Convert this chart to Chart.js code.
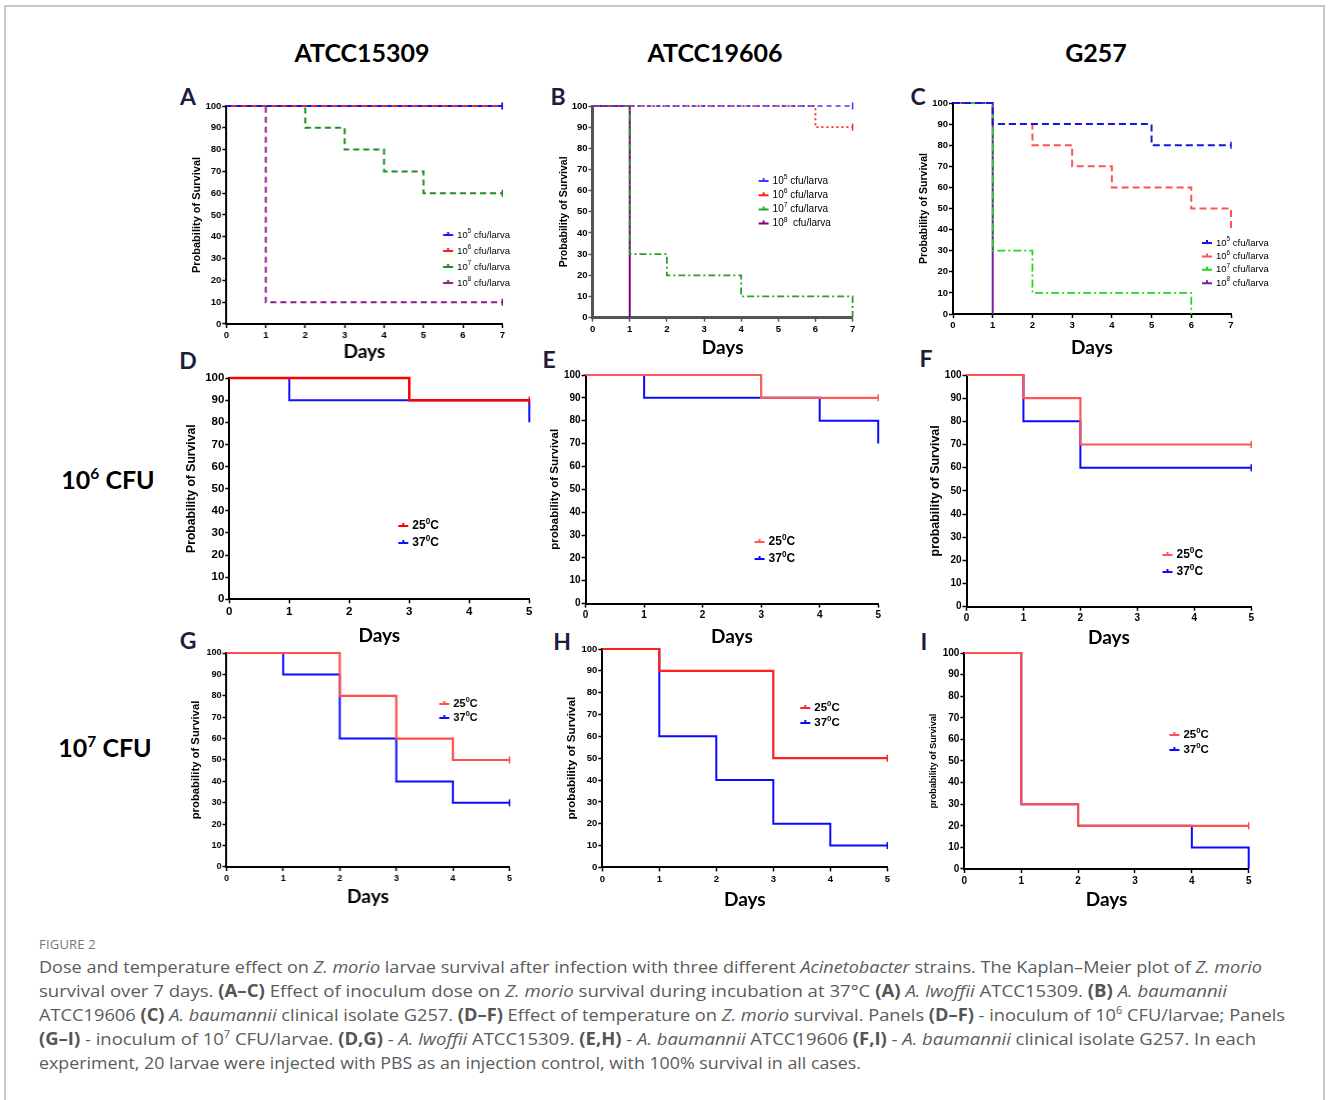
<!DOCTYPE html>
<html>
<head>
<meta charset="utf-8">
<script src="https://cdn.jsdelivr.net/npm/chart.js@4.4.1/dist/chart.umd.min.js"></script>
<style>
  body { margin: 0; background: #fff; }
  #fig { position: relative; width: 1328px; height: 1100px; overflow: hidden; font-family: 'Open Sans', sans-serif; }
  .frame { position: absolute; left: 4px; top: 5px; width: 1321px; height: 1120px; border: 2px solid #c8c8c8; box-sizing: border-box; }
  .head { position: absolute; font: 700 25px Lato, sans-serif; color: #000; transform: translate(-50%, -50%); white-space: nowrap; line-height: 1; }
  .letter { position: absolute; font: 700 23px Lato, sans-serif; color: #1e1e3c; transform: translate(-50%, -50%); line-height: 1; }
  .rowlab { position: absolute; font: 700 25px Lato, sans-serif; color: #000; transform: translate(-50%, -50%); white-space: nowrap; line-height: 1; }
  .rowlab sup { font-size: 62%; vertical-align: 0.6em; line-height: 0; }
  .figno { position: absolute; left: 39px; top: 935px; font: 400 13px 'Open Sans', sans-serif; color: #777; letter-spacing: 0.2px; }
  .cap { position: absolute; left: 39px; font: 400 17px 'Open Sans', sans-serif; color: #5b5b5b; white-space: nowrap; line-height: 24px; transform-origin: 0 50%; }
  .cap b { font-weight: 700; color: #555; }
  .cap sup { font-size: 60%; line-height: 0; }
  .panel { position: absolute; }
</style>
</head>
<body>
<div id="fig">
  <div class="frame"></div>

  <div class="head" style="left:362px;top:52px">ATCC15309</div>
  <div class="head" style="left:715px;top:52px">ATCC19606</div>
  <div class="head" style="left:1096px;top:52px">G257</div>

  <div class="rowlab" style="left:108px;top:479px">10<sup>6</sup> CFU</div>
  <div class="rowlab" style="left:105px;top:747px">10<sup>7</sup> CFU</div>

  <div class="letter" style="left:188px;top:96px">A</div>
  <div class="letter" style="left:558px;top:96px">B</div>
  <div class="letter" style="left:918px;top:96px">C</div>
  <div class="letter" style="left:188px;top:360px">D</div>
  <div class="letter" style="left:549px;top:359px">E</div>
  <div class="letter" style="left:926px;top:358px">F</div>
  <div class="letter" style="left:188px;top:640px">G</div>
  <div class="letter" style="left:562px;top:641px">H</div>
  <div class="letter" style="left:924px;top:641px">I</div>

  <div class="figno">FIGURE 2</div>
  <div class="cap" data-w="1223" style="top:955px">Dose and temperature effect on <i>Z. morio</i> larvae survival after infection with three different <i>Acinetobacter</i> strains. The Kaplan–Meier plot of <i>Z. morio</i></div>
  <div class="cap" data-w="1188" style="top:979px">survival over 7 days. <b>(A–C)</b> Effect of inoculum dose on <i>Z. morio</i> survival during incubation at 37°C <b>(A)</b> <i>A. lwoffii</i> ATCC15309. <b>(B)</b> <i>A. baumannii</i></div>
  <div class="cap" data-w="1246" style="top:1003px">ATCC19606 <b>(C)</b> <i>A. baumannii</i> clinical isolate G257. <b>(D–F)</b> Effect of temperature on <i>Z. morio</i> survival. Panels <b>(D–F)</b> - inoculum of 10<sup>6</sup> CFU/larvae; Panels</div>
  <div class="cap" data-w="1217" style="top:1027px"><b>(G–I)</b> - inoculum of 10<sup>7</sup> CFU/larvae. <b>(D,G)</b> - <i>A. lwoffii</i> ATCC15309. <b>(E,H)</b> - <i>A. baumannii</i> ATCC19606 <b>(F,I)</b> - <i>A. baumannii</i> clinical isolate G257. In each</div>
  <div class="cap" data-w="822" style="top:1051px">experiment, 20 larvae were injected with PBS as an injection control, with 100% survival in all cases.</div>
</div>

<script>
// ---- data (days, % survival) ----
// A: ATCC15309, dose, 37C
var aDays5 = [0, 7],                aSurv5 = [100, 100];
var aDays6 = [0, 7],                aSurv6 = [100, 100];
var aDays7 = [0, 2, 3, 4, 5, 7],    aSurv7 = [100, 90, 80, 70, 60, 60];
var aDays8 = [0, 1, 7],             aSurv8 = [100, 10, 10];
// B: ATCC19606, dose, 37C
var bDays5 = [0, 7],                bSurv5 = [100, 100];
var bDays6 = [0, 6, 7],             bSurv6 = [100, 90, 90];
var bDays7 = [0, 1, 2, 4, 7],       bSurv7 = [100, 30, 20, 10, 0];
var bDays8 = [0, 1],                bSurv8 = [100, 0];
// C: G257, dose, 37C
var cDays5 = [0, 1, 5, 7],          cSurv5 = [100, 90, 80, 80];
var cDays6 = [0, 1, 2, 3, 4, 6, 7], cSurv6 = [100, 90, 80, 70, 60, 50, 40];
var cDays7 = [0, 1, 2, 6],          cSurv7 = [100, 30, 10, 0];
var cDays8 = [0, 1],                cSurv8 = [100, 0];
// D-F: 10^6 CFU, 25C vs 37C
var dDays25 = [0, 3, 5],            dSurv25 = [100, 90, 90];
var dDays37 = [0, 1, 5],            dSurv37 = [100, 90, 80];
var eDays25 = [0, 3, 5],            eSurv25 = [100, 90, 90];
var eDays37 = [0, 1, 4, 5],         eSurv37 = [100, 90, 80, 70];
var fDays25 = [0, 1, 2, 5],         fSurv25 = [100, 90, 70, 70];
var fDays37 = [0, 1, 2, 5],         fSurv37 = [100, 80, 60, 60];
// G-I: 10^7 CFU, 25C vs 37C
var gDays25 = [0, 2, 3, 4, 5],      gSurv25 = [100, 80, 60, 50, 50];
var gDays37 = [0, 1, 2, 3, 4, 5],   gSurv37 = [100, 90, 60, 40, 30, 30];
var hDays25 = [0, 1, 3, 5],         hSurv25 = [100, 90, 50, 50];
var hDays37 = [0, 1, 2, 3, 4, 5],   hSurv37 = [100, 60, 40, 20, 10, 10];
var iDays25 = [0, 1, 2, 5],         iSurv25 = [100, 30, 20, 20];
var iDays37 = [0, 1, 2, 4, 5],      iSurv37 = [100, 30, 20, 10, 0];

var doseLabels = ["10^5 cfu/larva", "10^6 cfu/larva", "10^7 cfu/larva", "10^8 cfu/larva"];
var doseLabelsB = ["10^5 cfu/larva", "10^6 cfu/larva", "10^7 cfu/larva", "10^8  cfu/larva"];
var tempLabels = ["25^0C", "37^0C"];

Chart.defaults.font.family = "'Liberation Sans', Arial, sans-serif";
Chart.defaults.color = "#000";

// draws "10^5 text" with a raised small character
function drawSup(ctx, text, x, y, size, weight) {
    var parts = text.split(/\^(\S)/);
    ctx.textBaseline = "middle";
    ctx.textAlign = "left";
    for (var i = 0; i < parts.length; i++) {
        if (i % 2 === 1) {
            ctx.font = weight + " " + (size * 0.68) + "px 'Liberation Sans', Arial";
            ctx.fillText(parts[i], x, y - size * 0.38);
        } else {
            ctx.font = weight + " " + size + "px 'Liberation Sans', Arial";
            ctx.fillText(parts[i], x, y);
        }
        x += ctx.measureText(parts[i]).width;
    }
}

var insideLegend = {
    id: "insideLegend",
    afterDraw: function(chart, args, opts) {
        var ctx = chart.ctx, area = chart.chartArea;
        ctx.save();
        chart.data.datasets.forEach(function(ds, i) {
            var x = area.left + opts.x, y = area.top + opts.y + i * opts.gap;
            ctx.strokeStyle = ds.borderColor;
            ctx.lineWidth = 2;
            ctx.setLineDash([]);
            ctx.beginPath();
            ctx.moveTo(x - 5, y); ctx.lineTo(x + 5, y);
            ctx.moveTo(x, y); ctx.lineTo(x, y - 3);
            ctx.stroke();
            ctx.fillStyle = "#000";
            drawSup(ctx, ds.label, x + 9, y, opts.size, opts.weight);
        });
        ctx.restore();
    }
};

function series(label, days, surv, color, width, dash, dashOffset) {
    var last = days.length - 1;
    return {
        label: label,
        data: days.map(function(d, i) { return { x: d, y: surv[i] }; }),
        borderColor: color,
        borderWidth: width,
        borderDash: dash || [],
        borderDashOffset: dashOffset || 0,
        stepped: true,
        fill: false,
        clip: false,
        pointStyle: "line",
        rotation: 90,
        pointBorderColor: color,
        pointBorderWidth: 1.5,
        pointRadius: function(c) {
            // censor tick at the end of a flat tail
            return (c.dataIndex === last && surv[last] === surv[last - 1]) ? 3.5 : 0;
        }
    };
}

function makePanel(p, datasets) {
    var fig = document.getElementById("fig");
    var yw = (p.ax - p.titleX) + 0.6 * p.titleSize;
    var xh = (p.daysY - p.by) + 0.6 * 19;
    var pad = 8, right = p.right || 14;
    var box = document.createElement("div");
    box.className = "panel";
    box.style.left = (p.ax - yw) + "px";
    box.style.top = (p.ty - pad) + "px";
    box.style.width = (yw + p.rx - p.ax + right) + "px";
    box.style.height = (pad + p.by - p.ty + xh) + "px";
    var canvas = document.createElement("canvas");
    box.appendChild(canvas);
    fig.appendChild(box);

    var axisColor = p.axisColor || "#000";
    new Chart(canvas, {
        type: "line",
        data: { datasets: datasets },
        plugins: [insideLegend],
        options: {
            responsive: true,
            maintainAspectRatio: false,
            animation: false,
            events: [],
            layout: { padding: { left: 0, top: pad, right: right, bottom: 0 } },
            plugins: {
                legend: { display: false },
                tooltip: { enabled: false },
                insideLegend: p.legend
            },
            scales: {
                x: {
                    type: "linear",
                    min: 0, max: p.xMax,
                    afterFit: function(s) { s.height = xh; s.paddingLeft = 0; s.paddingRight = 0; },
                    ticks: { stepSize: 1, padding: 2, font: { size: p.tickSize, weight: "bold" }, color: "#000", maxRotation: 0 },
                    grid: { drawOnChartArea: false, drawTicks: true, tickLength: 4, tickColor: axisColor, tickWidth: 1.5 },
                    border: { display: true, color: axisColor, width: p.axisWidth || 2 },
                    title: { display: true, text: "Days", padding: 0, color: "#000",
                             font: { family: "Lato, 'Open Sans', sans-serif", size: 19, weight: "bold" } }
                },
                y: {
                    min: 0, max: 100,
                    afterFit: function(s) { s.width = yw; s.paddingTop = 0; s.paddingBottom = 0; },
                    ticks: { stepSize: 10, padding: 1, font: { size: p.tickSize, weight: "bold" }, color: "#000" },
                    grid: { drawOnChartArea: false, drawTicks: true, tickLength: 4, tickColor: axisColor, tickWidth: 1.5 },
                    border: { display: true, color: axisColor, width: p.axisWidth || 2 },
                    title: { display: true, text: p.yTitle, padding: 0, color: "#000",
                             font: { size: p.titleSize, weight: "bold" } }
                }
            }
        }
    });
}

// A
makePanel({ ax: 226.7, ty: 106, by: 324, rx: 501.7, xMax: 7, titleX: 197, titleSize: 11, tickSize: 9.5, daysY: 352,
            yTitle: "Probability of Survival",
            legend: { x: 221, y: 129, gap: 16, size: 9.5, weight: "normal" } }, [
    series(doseLabels[0], aDays5, aSurv5, "#1414ff", 2, [5, 5]),
    series(doseLabels[1], aDays6, aSurv6, "#ff1a1a", 2, [5, 5], 5),
    series(doseLabels[2], aDays7, aSurv7, "#1f8a1f", 2, [6, 4]),
    series(doseLabels[3], aDays8, aSurv8, "#8b1a8b", 2, [6, 4])
]);
// B
makePanel({ ax: 592.3, ty: 105.7, by: 317.3, rx: 852.3, xMax: 7, titleX: 564, titleSize: 10.5, tickSize: 9.5, daysY: 348,
            yTitle: "Probability of Survival", axisColor: "#555", axisWidth: 3,
            legend: { x: 171, y: 75, gap: 14.2, size: 10, weight: "normal" } }, [
    series(doseLabelsB[0], bDays5, bSurv5, "#3c3cff", 1.6, [5, 4]),
    series(doseLabelsB[1], bDays6, bSurv6, "#ff2020", 1.8, [2, 3]),
    series(doseLabelsB[2], bDays7, bSurv7, "#2e9e2e", 1.8, [7, 3, 2, 3]),
    series(doseLabelsB[3], bDays8, bSurv8, "#800080", 2)
]);
// C
makePanel({ ax: 952.7, ty: 103.3, by: 314.3, rx: 1230.7, xMax: 7, titleX: 924, titleSize: 10.5, tickSize: 9.5, daysY: 348,
            yTitle: "Probability of Survival", right: 55,
            legend: { x: 254, y: 140, gap: 13.4, size: 9.5, weight: "normal" } }, [
    series(doseLabels[0], cDays5, cSurv5, "#1515e6", 2, [7, 4]),
    series(doseLabels[1], cDays6, cSurv6, "#ff5252", 2, [7, 4]),
    series(doseLabels[2], cDays7, cSurv7, "#22d622", 1.8, [8, 3, 2, 3]),
    series(doseLabels[3], cDays8, cSurv8, "#7a1fa2", 2)
]);
// D
makePanel({ ax: 229, ty: 378, by: 599.3, rx: 529, xMax: 5, titleX: 191, titleSize: 12.2, tickSize: 11.5, daysY: 636,
            yTitle: "Probability of Survival",
            legend: { x: 174, y: 148, gap: 17, size: 12, weight: "bold" } }, [
    series(tempLabels[0], dDays25, dSurv25, "#ff0000", 2.5),
    series(tempLabels[1], dDays37, dSurv37, "#1010ff", 2)
]);
// E
makePanel({ ax: 585.7, ty: 374.7, by: 603.3, rx: 878.3, xMax: 5, titleX: 555, titleSize: 11.5, tickSize: 10, daysY: 637,
            yTitle: "probability of Survival",
            legend: { x: 174, y: 167, gap: 17, size: 12, weight: "bold" } }, [
    series(tempLabels[0], eDays25, eSurv25, "#ff5a5a", 2.2),
    series(tempLabels[1], eDays37, eSurv37, "#0a0aff", 2)
]);
// F
makePanel({ ax: 966, ty: 375, by: 606.7, rx: 1250.7, xMax: 5, titleX: 935, titleSize: 12.5, tickSize: 10, daysY: 638,
            yTitle: "probability of Survival",
            legend: { x: 201, y: 180, gap: 17, size: 12, weight: "bold" } }, [
    series(tempLabels[0], fDays25, fSurv25, "#ff5555", 2.2),
    series(tempLabels[1], fDays37, fSurv37, "#0a0aff", 2)
]);
// G
makePanel({ ax: 226.7, ty: 653.3, by: 867.3, rx: 508.7, xMax: 5, titleX: 196, titleSize: 11.3, tickSize: 9, daysY: 897,
            yTitle: "probability of Survival",
            legend: { x: 217, y: 51, gap: 14, size: 11, weight: "bold" } }, [
    series(tempLabels[0], gDays25, gSurv25, "#ff4d4d", 2.2),
    series(tempLabels[1], gDays37, gSurv37, "#0a0aff", 2)
]);
// H
makePanel({ ax: 602.3, ty: 649.3, by: 867.7, rx: 887.3, xMax: 5, titleX: 572, titleSize: 11.7, tickSize: 9.5, daysY: 900,
            yTitle: "probability of Survival",
            legend: { x: 203, y: 59, gap: 15, size: 11.5, weight: "bold" } }, [
    series(tempLabels[0], hDays25, hSurv25, "#ff2020", 2.2),
    series(tempLabels[1], hDays37, hSurv37, "#0a0aff", 2)
]);
// I
makePanel({ ax: 964, ty: 653.3, by: 869.3, rx: 1248.3, xMax: 5, titleX: 933, titleSize: 9, tickSize: 10, daysY: 900,
            yTitle: "probability of Survival",
            legend: { x: 210, y: 82, gap: 15, size: 11.5, weight: "bold" } }, [
    series(tempLabels[0], iDays25, iSurv25, "#ff5050", 2.2),
    series(tempLabels[1], iDays37, iSurv37, "#0a0aff", 2)
]);

// fit caption lines to the reference line lengths
Array.prototype.forEach.call(document.querySelectorAll(".cap"), function(el) {
    var w = el.getBoundingClientRect().width;
    var target = parseFloat(el.getAttribute("data-w"));
    el.style.transform = "scaleX(" + (target / w) + ")";
});
</script>
</body>
</html>
